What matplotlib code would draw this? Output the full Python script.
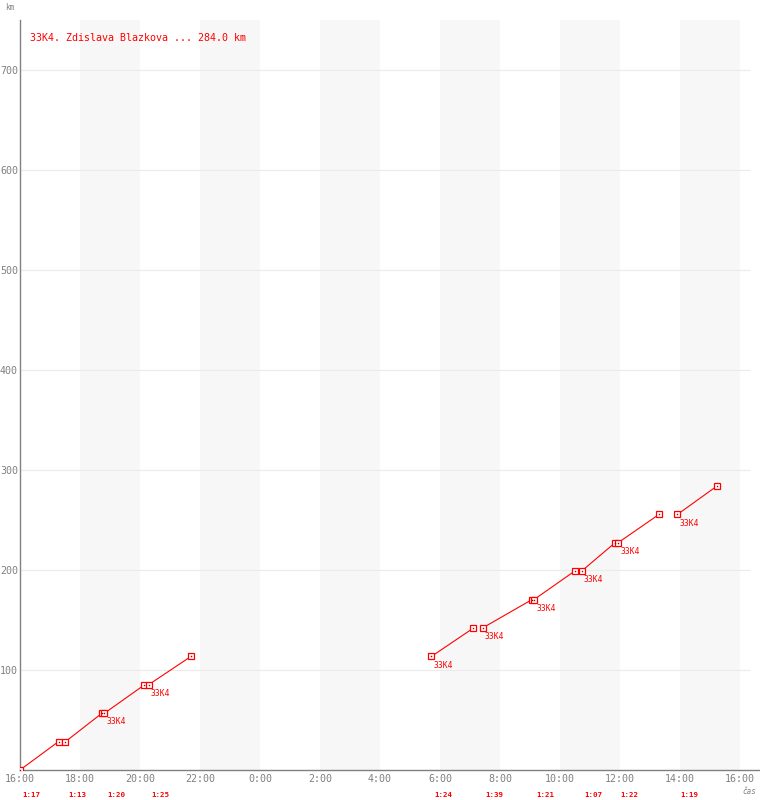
import matplotlib
matplotlib.use('Agg')
import matplotlib.pyplot as plt

# legs of the route, times counted from 16:00 on day one
dep_times = ["16:00", "17:31", "18:49", "20:17", "5:43", "7:25", "9:08", "10:43", "11:56", "13:55"]
arr_times = ["17:17", "18:44", "20:09", "21:42", "7:07", "9:04", "10:29", "11:50", "13:18", "15:14"]
km_start = [0.0, 28.4, 56.8, 85.2, 113.6, 142.0, 170.4, 198.8, 227.2, 255.6]
km_end = [28.4, 56.8, 85.2, 113.6, 142.0, 170.4, 198.8, 227.2, 255.6, 284.0]
durations = ["1:17", "1:13", "1:20", "1:25", "1:24", "1:39", "1:21", "1:07", "1:22", "1:19"]
stop_labels = ["", "", "33K4", "33K4", "33K4", "33K4", "33K4", "33K4", "33K4", "33K4"]

title = "33K4. Zdislava Blazkova ... 284.0 km"
x_tick_labels = ["16:00", "18:00", "20:00", "22:00", "0:00", "2:00", "4:00",
                 "6:00", "8:00", "10:00", "12:00", "14:00", "16:00"]
y_ticks = [100, 200, 300, 400, 500, 600, 700]

RED = '#ff0000'
GRAY = '#808080'
MONO = 'DejaVu Sans Mono'


def hours(t):
    h, m = t.split(':')
    v = int(h) + int(m) / 60.0 - 16
    if v < 0:
        v += 24
    return v


fig = plt.figure(figsize=(7.6, 8.0), dpi=100)
ax = fig.add_axes([20 / 760, 30 / 800, 740 / 760, 750 / 800])
ax.set_xlim(0, 740 / 30)
ax.set_ylim(0, 750)

# shaded two-hour bands
for start in range(2, 24, 4):
    ax.axvspan(start, start + 2, color='#f7f7f7', lw=0, zorder=0)
ax.hlines(y_ticks, 0, 730 / 30, color='#ebebeb', lw=0.8, zorder=1)

for i in range(len(dep_times)):
    x0, x1 = hours(dep_times[i]), hours(arr_times[i])
    if i == 0:
        x0 = 0.0
    ax.plot([x0, x1], [km_start[i], km_end[i]], color=RED, lw=0.8, zorder=3)
    ax.plot([x0, x1], [km_start[i], km_end[i]], ls='none', marker='s', ms=4.2,
            mfc='white', mec=RED, mew=0.9, zorder=4)
    ax.plot([x0, x1], [km_start[i], km_end[i]], ls='none', marker='s', ms=1.0,
            mfc='#aa0000', mec='none', zorder=5)
    if stop_labels[i]:
        ax.annotate(stop_labels[i], (x0, km_start[i]), xytext=(1.5, -3),
                    textcoords='offset points', ha='left', va='top',
                    color=RED, fontsize=5.8, family=MONO, zorder=6)
    ax.annotate(durations[i], (x0, 0), xytext=(2, -16), textcoords='offset points',
                ha='left', va='top', color=RED, fontsize=5.4, family=MONO,
                fontweight='bold', annotation_clip=False)

ax.set_xticks(range(0, 25, 2))
ax.set_xticklabels(x_tick_labels)
ax.set_yticks(y_ticks)
ax.tick_params(length=0, colors=GRAY, labelsize=7.2, pad=3)
for lab in ax.get_xticklabels() + ax.get_yticklabels():
    lab.set_family(MONO)
ax.tick_params(axis='y', pad=1.5)

for side in ['top', 'right']:
    ax.spines[side].set_visible(False)
for side in ['left', 'bottom']:
    ax.spines[side].set_color(GRAY)
    ax.spines[side].set_linewidth(1.0)

ax.text(30 / 760, 1 - 38 / 800, title, transform=fig.transFigure, color=RED,
        fontsize=7.2, family=MONO, va='center', ha='left')
fig.text(5 / 760, 1 - 7 / 800, "km", color=GRAY, fontsize=5.5, family=MONO,
         va='center', ha='left')
fig.text(742 / 760, 1 - 791 / 800, "čas", color=GRAY, fontsize=5.5, family=MONO,
         va='center', ha='left', style='italic')

fig.savefig('out.png', dpi=100)
